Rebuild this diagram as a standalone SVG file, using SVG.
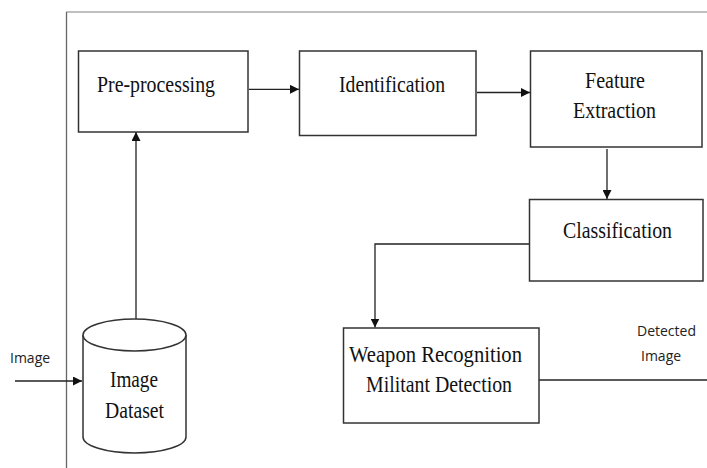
<svg xmlns="http://www.w3.org/2000/svg" width="707" height="468" viewBox="0 0 707 468">
<defs>
<marker id="ah" viewBox="0 0 10 10" refX="10" refY="5" markerWidth="9" markerHeight="9" markerUnits="userSpaceOnUse" orient="auto">
<path d="M0,0 L10,5 L0,10 z" fill="#111"/>
</marker>
</defs>
<style>
.box{fill:#fff;stroke:#333;stroke-width:1.5}
.t{font-family:"Liberation Serif","Times New Roman",serif;font-size:24px;fill:#111;text-anchor:start}
.s{font-family:"Open Sans","Liberation Sans",sans-serif;font-size:14px;fill:#222}
.c{fill:none;stroke:#222;stroke-width:1.3}
</style>
<rect width="707" height="468" fill="#fff"/>
<g id="frame">
<line x1="66" y1="12" x2="707" y2="12" stroke="#aaa" stroke-width="1.5"/>
<line x1="66.5" y1="12" x2="66.5" y2="468" stroke="#666" stroke-width="1.3"/>
</g>
<g id="connectors">
<line class="c" x1="15" y1="381" x2="82" y2="381" marker-end="url(#ah)"/>
<line class="c" x1="136" y1="319" x2="136" y2="132" marker-end="url(#ah)"/>
<line class="c" x1="249" y1="89.3" x2="299" y2="89.3" marker-end="url(#ah)"/>
<line class="c" x1="477" y1="92.5" x2="530" y2="92.5" marker-end="url(#ah)"/>
<line class="c" x1="607" y1="149" x2="607" y2="199" marker-end="url(#ah)"/>
<polyline class="c" points="529,244 375,244 375,327.5" marker-end="url(#ah)"/>
<line class="c" x1="539" y1="380" x2="707" y2="380"/>
</g>
<g id="label-image-in">
<text class="s" x="10" y="363">Image</text>
</g>
<g id="label-detected">
<text class="s" x="637" y="336">Detected</text>
<text class="s" x="641" y="361">Image</text>
</g>
<g id="dataset">
<path class="box" d="M83,335 L83,437 A51.5,16 0 0 0 186,437 L186,335"/>
<ellipse class="box" cx="134.5" cy="335" rx="51.5" ry="16"/>
<text class="t" x="110" y="387" textLength="48" lengthAdjust="spacingAndGlyphs">Image</text>
<text class="t" x="105" y="418" textLength="59" lengthAdjust="spacingAndGlyphs">Dataset</text>
</g>
<g id="preprocessing">
<rect class="box" x="78.5" y="51" width="169.5" height="81"/>
<text class="t" x="97" y="92" textLength="118" lengthAdjust="spacingAndGlyphs">Pre-processing</text>
</g>
<g id="identification">
<rect class="box" x="299.5" y="51" width="176.5" height="84.5"/>
<text class="t" x="339" y="92.3" textLength="106" lengthAdjust="spacingAndGlyphs">Identification</text>
</g>
<g id="feature">
<rect class="box" x="530.5" y="51" width="171.5" height="96"/>
<text class="t" x="585" y="87.5" textLength="60" lengthAdjust="spacingAndGlyphs">Feature</text>
<text class="t" x="573" y="118" textLength="83" lengthAdjust="spacingAndGlyphs">Extraction</text>
</g>
<g id="classification">
<rect class="box" x="529.5" y="199.5" width="173.5" height="81.5"/>
<text class="t" x="563" y="238" textLength="109" lengthAdjust="spacingAndGlyphs">Classification</text>
</g>
<g id="weapon">
<rect class="box" x="343.5" y="328" width="195.5" height="95"/>
<text class="t" x="349" y="362" textLength="173" lengthAdjust="spacingAndGlyphs">Weapon Recognition</text>
<text class="t" x="366" y="392" textLength="146" lengthAdjust="spacingAndGlyphs">Militant Detection</text>
</g>
</svg>
